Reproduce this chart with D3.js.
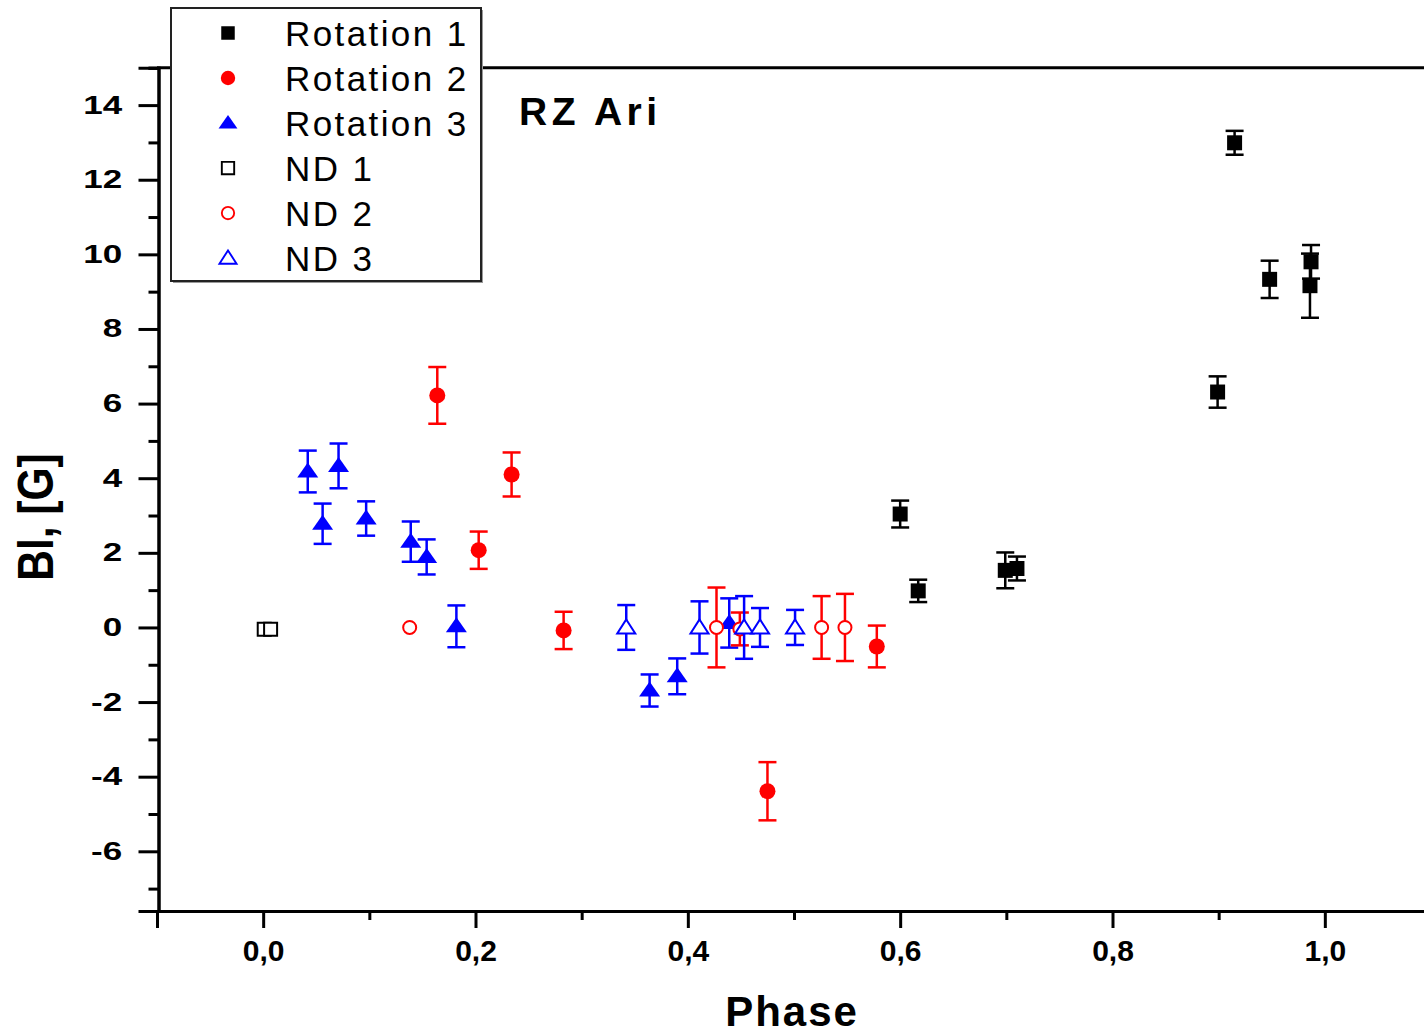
<!DOCTYPE html>
<html>
<head>
<meta charset="utf-8">
<script src="https://cdn.jsdelivr.net/npm/d3@7"></script>
<style>
body{margin:0;background:#fff;}
svg{display:block;font-family:"Liberation Sans",Arial,sans-serif;}
</style>
</head>
<body>
<div id="chart"></div>
<script>
// data
var rot1Phase=[0.600,0.617,0.699,0.710,0.899,0.915,0.948,0.986,0.987];
var rot1B=[3.04,0.98,1.53,1.58,6.31,12.99,9.33,9.16,9.80];
var rot1Err=[0.36,0.30,0.48,0.32,0.42,0.32,0.50,0.86,0.45];

var rot2Phase=[0.164,0.203,0.234,0.283,0.475,0.578];
var rot2B=[6.22,2.07,4.10,-0.08,-4.39,-0.51];
var rot2Err=[0.76,0.50,0.59,0.50,0.78,0.56];

var rot3Phase=[0.042,0.056,0.071,0.097,0.139,0.154,0.182,0.364,0.390,0.439];
var rot3B=[4.18,2.78,4.33,2.92,2.30,1.89,0.03,-1.69,-1.31,0.12];
var rot3Err=[0.56,0.54,0.60,0.46,0.54,0.47,0.56,0.43,0.48,0.66];

var nd1Phase=[0.001,0.007];
var nd1B=[-0.05,-0.05];
var nd1Err=[0,0];

var nd2Phase=[0.138,0.427,0.449,0.526,0.548];
var nd2B=[0,0,-0.04,0,0];
var nd2Err=[0,1.07,0.44,0.84,0.90];

var nd3Phase=[0.342,0.411,0.453,0.468,0.501];
var nd3B=[0,0,0,0,0];
var nd3Err=[0.60,0.70,0.84,0.52,0.47];

var seriesNames=["Rotation 1","Rotation 2","Rotation 3","ND 1","ND 2","ND 3"];
var xMajor=[0,0.2,0.4,0.6,0.8,1.0];
var xMinor=[-0.1,0.1,0.3,0.5,0.7,0.9,1.1];
var yMajor=[-6,-4,-2,0,2,4,6,8,10,12,14];
var yMinor=[-7,-5,-3,-1,1,3,5,7,9,11,13,15];

// styles
var series=[
  {ph:rot1Phase,b:rot1B,e:rot1Err,shape:"square",color:"#000",fill:true},
  {ph:rot2Phase,b:rot2B,e:rot2Err,shape:"circle",color:"#ff0000",fill:true},
  {ph:rot3Phase,b:rot3B,e:rot3Err,shape:"triangle",color:"#0000ff",fill:true},
  {ph:nd1Phase,b:nd1B,e:nd1Err,shape:"square",color:"#000",fill:false},
  {ph:nd2Phase,b:nd2B,e:nd2Err,shape:"circle",color:"#ff0000",fill:false},
  {ph:nd3Phase,b:nd3B,e:nd3Err,shape:"triangle",color:"#0000ff",fill:false}
];

var W=1424,H=1036;
var x=d3.scaleLinear().domain([-0.1,1.1]).range([157,1431]);
var y=d3.scaleLinear().domain([-7.6,15]).range([911,67.8]);

var svg=d3.select("#chart").append("svg").attr("width",W).attr("height",H);

function markerPath(shape,filled){
    if(shape=="square"){
        var s=filled?7.5:6.5;
        return "M"+(-s)+","+(-s)+"H"+s+"V"+s+"H"+(-s)+"Z";
    }
    if(shape=="circle"){
        var r=filled?8:6.5;
        return "M"+r+",0A"+r+","+r+" 0 1,1 "+(-r)+",0A"+r+","+r+" 0 1,1 "+r+",0Z";
    }
    if(filled) return "M0,-9L10.5,6L-10.5,6Z";
    return "M0,-8L9,6L-9,6Z";
}

// axes frame
var frame=svg.append("g");
frame.append("line").attr("x1",157).attr("x2",W).attr("y1",y(15)).attr("y2",y(15))
    .attr("stroke","#000").attr("stroke-width",3);

var xAxis=svg.append("g").attr("transform","translate(0,"+y(-7.6)+")")
    .call(d3.axisBottom(x).tickValues(xMajor).tickSize(17).tickFormat(function(d){return d3.format(".1f")(d).replace(".",",");}));
xAxis.selectAll("text").attr("y",50).attr("dy",0).attr("font-size",30).attr("font-weight","bold").attr("fill","#000");
var xMin=svg.append("g").attr("transform","translate(0,"+y(-7.6)+")")
    .call(d3.axisBottom(x).tickValues(xMinor).tickSize(9).tickFormat(""));
[xAxis,xMin].forEach(function(g){
    g.select(".domain").attr("stroke-width",3);
    g.selectAll(".tick line").attr("stroke-width",3);
});

var yAxis=svg.append("g").attr("transform","translate(158.5,0)")
    .call(d3.axisLeft(y).tickValues(yMajor).tickSize(20).tickFormat(function(d){return String(d);}));
yAxis.selectAll("text").attr("x",-26).attr("transform","scale(1.4,1)")
    .attr("font-size",25).attr("font-weight","bold").attr("fill","#000");
var yMin=svg.append("g").attr("transform","translate(158.5,0)")
    .call(d3.axisLeft(y).tickValues(yMinor).tickSize(10).tickFormat(""));
[yAxis,yMin].forEach(function(g){
    g.select(".domain").attr("stroke-width",3);
    g.selectAll(".tick line").attr("stroke-width",3);
});

// data
series.forEach(function(s){
    var pts=s.ph.map(function(p,i){return {x:p,b:s.b[i],e:s.e[i]};});
    var g=svg.append("g");
    var eb=g.selectAll(".eb").data(pts.filter(function(d){return d.e>0;})).enter().append("g")
        .attr("stroke",s.color).attr("stroke-width",2.5);
    eb.append("line").attr("x1",function(d){return x(d.x);}).attr("x2",function(d){return x(d.x);})
        .attr("y1",function(d){return y(d.b+d.e);}).attr("y2",function(d){return y(d.b-d.e);});
    eb.append("line").attr("x1",function(d){return x(d.x)-9;}).attr("x2",function(d){return x(d.x)+9;})
        .attr("y1",function(d){return y(d.b+d.e);}).attr("y2",function(d){return y(d.b+d.e);});
    eb.append("line").attr("x1",function(d){return x(d.x)-9;}).attr("x2",function(d){return x(d.x)+9;})
        .attr("y1",function(d){return y(d.b-d.e);}).attr("y2",function(d){return y(d.b-d.e);});
    g.selectAll(".pt").data(pts).enter().append("path")
        .attr("d",markerPath(s.shape,s.fill))
        .attr("transform",function(d){return "translate("+x(d.x)+","+y(d.b)+")";})
        .attr("fill",s.fill?s.color:"#fff")
        .attr("stroke",s.color).attr("stroke-width",s.fill?0:2);
});

// legend
var leg=svg.append("g");
leg.append("rect").attr("x",173).attr("y",10).attr("width",310).attr("height",273).attr("fill","#999");
leg.append("rect").attr("x",171).attr("y",8).attr("width",310).attr("height",273)
    .attr("fill","#fff").attr("stroke","#222").attr("stroke-width",2);
seriesNames.forEach(function(n,i){
    var s=series[i];
    leg.append("path").attr("d",markerPath(s.shape,s.fill))
        .attr("transform","translate(228,"+(33+45*i)+")"+(s.fill?" scale(0.9)":" scale(0.95)"))
        .attr("fill",s.fill?s.color:"#fff").attr("stroke",s.color).attr("stroke-width",s.fill?0:2);
    leg.append("text").attr("x",285).attr("y",46+45*i).attr("font-size",35)
        .attr("letter-spacing","2.4px").attr("fill","#000").text(n);
});

// titles
svg.append("text").attr("x",519).attr("y",125).attr("font-size",39).attr("font-weight","bold")
    .attr("letter-spacing","4.5px").text("RZ Ari");
svg.append("text").attr("x",792).attr("y",1026).attr("text-anchor","middle")
    .attr("font-size",42).attr("font-weight","bold").attr("letter-spacing","2px").text("Phase");
svg.append("text").attr("transform","translate(53,517) rotate(-90) scale(0.85,1)")
    .attr("text-anchor","middle").attr("font-size",50).attr("font-weight","bold").text("Bl, [G]");
</script>
</body>
</html>
